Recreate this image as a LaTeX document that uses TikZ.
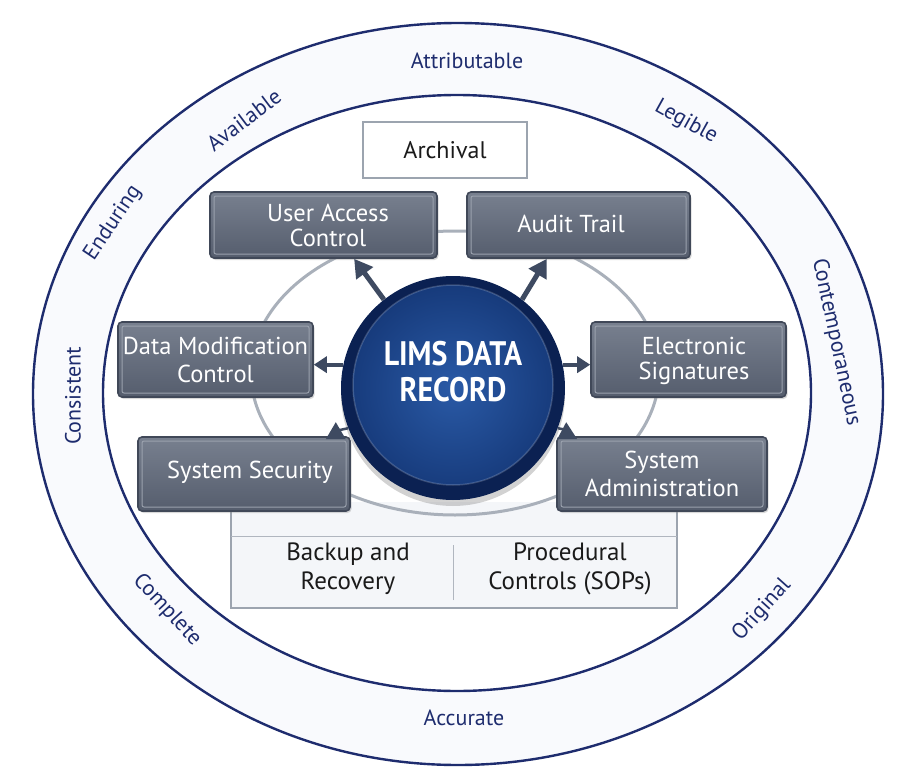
\documentclass[tikz,border=0pt]{standalone}
\usepackage{fontspec}
\setmainfont{PT Sans}
\usetikzlibrary{arrows.meta,shadows,calc}
\definecolor{navy}{HTML}{1E2C6E}
\definecolor{boxdark}{HTML}{555D6D}
\definecolor{boxlight}{HTML}{78808F}
\definecolor{boxborder}{HTML}{404858}
\definecolor{boxinner}{HTML}{9AA1AD}
\definecolor{arrowc}{HTML}{3E4A61}
\definecolor{ringgray}{HTML}{A9B0BA}
\definecolor{bandfill}{HTML}{F9FAFD}
\definecolor{bbfill}{HTML}{F4F6F9}
\definecolor{bbline}{HTML}{9CA4AF}
\definecolor{circin}{HTML}{2A5AA6}
\definecolor{circout}{HTML}{153878}
\definecolor{circrim}{HTML}{0B2152}
\definecolor{darktext}{HTML}{1A1A1A}
\begin{document}
\begin{tikzpicture}[x=1pt,y=-1pt,
  gbox/.style={draw=boxborder, line width=1.6pt, rounded corners=4pt,
    top color=boxlight, bottom color=boxdark, text=white,
    font=\fontsize{24.5}{25}\selectfont, align=center, inner sep=0pt,
    drop shadow={shadow xshift=1.5pt, shadow yshift=-2pt, opacity=0.3},
    path picture={\draw[boxinner, line width=1pt, rounded corners=2pt]
      ($(path picture bounding box.north west)+(4,4)$) rectangle
      ($(path picture bounding box.south east)+(-4,-4)$);}},
  boxtext/.style={text=white, font=\fontsize{24.5}{25}\selectfont, align=center, inner sep=0pt},
  ringlabel/.style={text=navy, font=\fontsize{22}{24}\selectfont, inner sep=0pt},
  arrbig/.style={draw=arrowc, line width=5pt, -{Triangle[length=18pt,width=20pt]}},
  arrmid/.style={draw=arrowc, line width=4pt, -{Triangle[length=13pt,width=16pt]}},
  arrthin/.style={draw=arrowc, line width=2.5pt},
  darklabel/.style={text=darktext, font=\fontsize{25}{29}\selectfont, align=center, inner sep=0pt}
]
\useasboundingbox (0,0) rectangle (900,779);
\fill[white] (0,0) rectangle (900,779);

% outer band
\fill[bandfill, even odd rule] (458,394) ellipse [x radius=425, y radius=371]
   (457,393) ellipse [x radius=354, y radius=298];
\draw[navy, line width=2.4pt] (458,394) ellipse [x radius=425, y radius=371];
\draw[navy, line width=2.4pt] (457,393) ellipse [x radius=354, y radius=298];

% ring labels
\node[ringlabel] (lattr) at (467,61) {Attributable};
\node[ringlabel, rotate=-29] (lleg) at (686,122) {Legible};
\node[ringlabel, rotate=-78] (lcont) at (836,342) {Contemporaneous};
\node[ringlabel, rotate=48] (lorig) at (762,610) {Original};
\node[ringlabel] (lacc) at (464,718) {Accurate};
\node[ringlabel, rotate=-47] (lcomp) at (167,610) {Complete};
\node[ringlabel, rotate=90] (lcons) at (73,396) {Consistent};
\node[ringlabel, rotate=56] (lend) at (113,223) {Enduring};
\node[ringlabel, rotate=37] (lavail) at (244,120) {Available};

% bottom box
\node[fill=bbfill, minimum width=446pt, minimum height=106pt, inner sep=0pt] (bb) at (454,555) {};
\draw[bbline, line width=1.5pt] (bb.north west) -- (bb.south west) -- (bb.south east) -- (bb.north east);
\draw[bbline!80, line width=1pt] ($(bb.north west)+(0,35)$) -- ($(bb.north east)+(0,35)$);
\draw[bbline!80, line width=1pt] ($(bb.south)+(-1,-8)$) -- ($(bb.south)+(-1,-63)$);
\node[darklabel] (backup) at (348,569) {Backup and\\Recovery};
\node[darklabel] (proc) at (570,569) {Procedural\\Controls (SOPs)};

% gray ring
\draw[ringgray, line width=3pt] (455,373) ellipse [x radius=204, y radius=142];

% archival
\node[draw=bbline, line width=1.5pt, fill=white, minimum width=164pt, minimum height=56pt,
      text=darktext, font=\fontsize{24}{25}\selectfont, inner sep=0pt] (arch) at (445,150) {Archival};

% boxes
\node[gbox, minimum width=227pt, minimum height=66pt] (uac) at (323.5,225) {};
\node[boxtext] (uact) at (328,225) {User Access\\Control};
\node[gbox, minimum width=223pt, minimum height=66pt] (at) at (578.5,225) {};
\node[boxtext] (att) at (571,224) {Audit Trail};
\node[gbox, minimum width=195pt, minimum height=75pt, font=\fontsize{24.5}{28}\selectfont] (dmc) at (215.5,359.5) {Data Modification\\Control};
\node[gbox, minimum width=195pt, minimum height=75pt] (es) at (688.5,359.5) {};
\node[boxtext] (est) at (694,361) {Electronic\\Signatures};
\node[gbox, minimum width=212pt, minimum height=74pt] (ss) at (244,474) {};
\node[boxtext] (sst) at (250,472) {System Security};
\node[gbox, minimum width=210pt, minimum height=74pt, font=\fontsize{24.5}{28}\selectfont] (sa) at (662,474) {System\\Administration};

% center circle
\node[circle, minimum size=224pt, inner sep=0pt, fill=circrim,
      drop shadow={shadow xshift=0pt, shadow yshift=-6pt, opacity=0.35},
      path picture={\fill[inner color=circin, outer color=circout]
        ($(path picture bounding box.center)+(0,-3)$) circle (100pt);
        \draw[white, opacity=0.18, line width=1.5pt] ($(path picture bounding box.center)+(0,-3)$) circle (100pt);}] (c) at (453,388) {};
\node[text=white, align=center, inner sep=0pt] (ctext) at ($(c.center)+(0,-12)$)
      {\scalebox{0.88}[1]{\bfseries\fontsize{34}{36}\selectfont\begin{tabular}{@{}c@{}}LIMS DATA\\RECORD\end{tabular}}};

% arrows
\draw[arrbig] (c.128) -- ($(uac.south west)!0.634!(uac.south east)$);
\draw[arrbig] (c.52) -- ($(at.south west)!0.359!(at.south east)$);
\draw[arrmid] (c.168) -- (c.168 -| dmc.east);
\draw[arrmid] (c.12) -- (c.12 -| es.west);
\draw[arrthin] (c.201) -- ($(ss.north east)+(-12,-6)$);
\fill[arrowc] ($(ss.north east)+(-25,3)$) -- ($(ss.north east)+(-15,-14)$) -- ($(ss.north east)+(-5,3)$) -- cycle;
\draw[arrthin] (c.339) -- ($(sa.north west)+(12,-6)$);
\fill[arrowc] ($(sa.north west)+(1,3)$) -- ($(sa.north west)+(10,-14)$) -- ($(sa.north west)+(21,3)$) -- cycle;
\end{tikzpicture}
\end{document}
